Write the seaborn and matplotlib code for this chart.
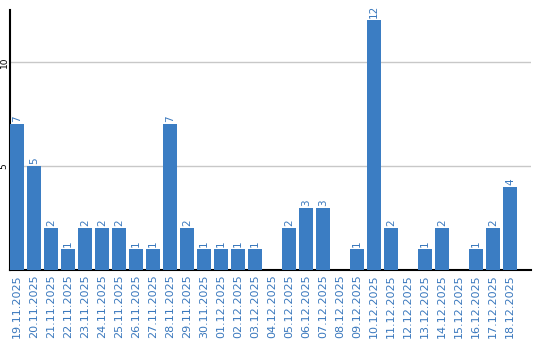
import matplotlib
matplotlib.use("Agg")
import matplotlib.pyplot as plt
import seaborn as sns
import pandas as pd

dates = ["19.11.2025", "20.11.2025", "21.11.2025", "22.11.2025", "23.11.2025",
         "24.11.2025", "25.11.2025", "26.11.2025", "27.11.2025", "28.11.2025",
         "29.11.2025", "30.11.2025", "01.12.2025", "02.12.2025", "03.12.2025",
         "04.12.2025", "05.12.2025", "06.12.2025", "07.12.2025", "08.12.2025",
         "09.12.2025", "10.12.2025", "11.12.2025", "12.12.2025", "13.12.2025",
         "14.12.2025", "15.12.2025", "16.12.2025", "17.12.2025", "18.12.2025"]
values = [7, 5, 2, 1, 2, 2, 2, 1, 1, 7,
          2, 1, 1, 1, 1, 0, 2, 3, 3, 0,
          1, 12, 2, 0, 1, 2, 0, 1, 2, 4]
yticks = [5, 10]

BAR = "#3b7dc3"
TXT = "#3a78bd"

sns.set_theme(style="white")
plt.rcParams["font.family"] = ["DejaVu Sans"]

df = pd.DataFrame({"date": dates, "value": values})

fig = plt.figure(figsize=(5.4, 3.4), dpi=100)
ax = fig.add_axes([10 / 540, 1 - 270 / 340, 521 / 540, 260 / 340])

sns.barplot(data=df, x="date", y="value", order=dates, color=BAR,
            saturation=1, width=0.82, ax=ax, zorder=3)
for p in ax.patches:
    p.set_edgecolor("none")

ax.bar_label(ax.containers[0],
             labels=[str(v) if v > 0 else "" for v in values],
             rotation=90, padding=1.5, color=TXT, fontsize=7.5)

ax.set_xlim(-0.41, -0.41 + 521 / 17)
ax.set_ylim(0, 12.5)
ax.set_yticks(yticks)
ax.set_yticklabels([str(t) for t in yticks], rotation=90, fontsize=6.5,
                   color="black", va="center")
ax.tick_params(axis="y", length=0, pad=1)
ax.tick_params(axis="x", length=0, pad=3)
for lbl in ax.get_xticklabels():
    lbl.set_rotation(90)
    lbl.set_color(TXT)
    lbl.set_fontsize(8)
    lbl.set_va("top")
    lbl.set_ha("center")

ax.grid(axis="y", color="#c8c8c8", linewidth=1, zorder=0)
ax.set_axisbelow(True)
ax.set_xlabel("")
ax.set_ylabel("")
for s in ["top", "right"]:
    ax.spines[s].set_visible(False)
for s in ["left", "bottom"]:
    ax.spines[s].set_color("black")
    ax.spines[s].set_linewidth(1.5)

fig.savefig("out.png", dpi=100)
